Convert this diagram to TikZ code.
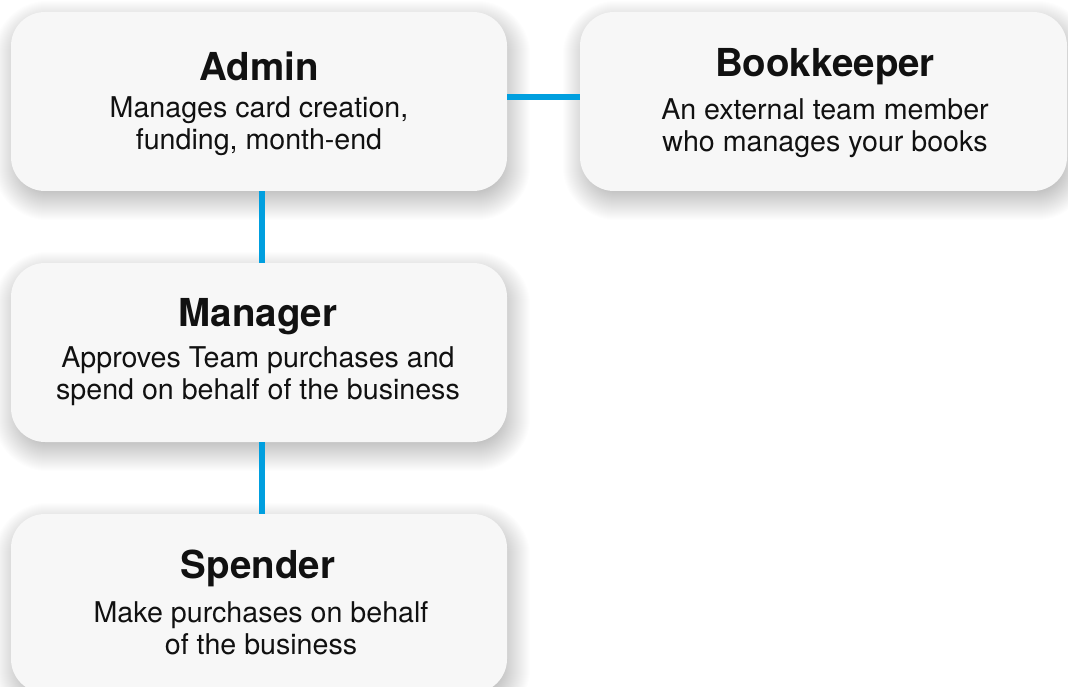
\documentclass[tikz,border=0pt]{standalone}
\usepackage{fontspec}
\setmainfont{TeX Gyre Heros}
\usetikzlibrary{backgrounds}
\definecolor{boxfill}{HTML}{F7F7F7}
\definecolor{linkblue}{HTML}{009FDF}
\definecolor{txt}{HTML}{111111}
\newcommand{\softshadow}[1]{%
  \foreach \i in {-10,...,20}{%
    \fill[black, opacity=0.0065, rounded corners=34pt+\i pt]
      ([xshift=-\i pt+3pt, yshift=\i pt-9pt]#1.north west) rectangle
      ([xshift=\i pt+3pt, yshift=-\i pt-9pt]#1.south east);
  }}
\begin{document}
\begin{tikzpicture}[x=1pt,y=-1pt,
  card/.style={fill=boxfill, draw=none, rounded corners=34pt, minimum width=496pt, minimum height=179pt, inner sep=0pt},
  title/.style={font=\fontsize{38.5}{42}\selectfont\bfseries, text=txt, inner sep=0pt},
  body/.style={font=\fontsize{28.6}{32}\selectfont, text=txt, align=center, inner sep=0pt},
  link/.style={draw=linkblue, line width=6pt}]
\useasboundingbox (0,0) rectangle (1068,687);
% cards
\node[card] (admin) at (259,101.5) {};
\node[card, minimum width=487pt] (book) at (823.5,101.5) {};
\node[card] (manager) at (259,352.5) {};
\node[card] (spender) at (259,603.5) {};
\begin{pgfonlayer}{background}
\fill[white] (0,0) rectangle (1068,687);
\softshadow{admin}
\softshadow{book}
\softshadow{manager}
\softshadow{spender}
\end{pgfonlayer}
% connectors
\draw[link] ([xshift=3pt]admin.south) -- ([xshift=3pt]manager.north);
\draw[link] ([xshift=3pt]manager.south) -- ([xshift=3pt]spender.north);
\draw[link] ([yshift=4.5pt]admin.east) -- ([yshift=4.5pt]book.west);
% texts
\node[title] (admint) at (259,66) {Admin};
\node[body] (adminb) at (259,126) {Manages card creation,\\funding, month-end};
\node[title] (bookt) at (825,67) {Bookkeeper};
\node[body] (bookb) at (825,128) {An external team member\\who manages your books};
\node[title] (managert) at (258,317) {Manager};
\node[body] (managerb) at (258,376) {Approves Team purchases and\\spend on behalf of the business};
\node[title] (spendert) at (258,568) {Spender};
\node[body] (spenderb) at (261,628) {Make purchases on behalf\\of the business};
\end{tikzpicture}
\end{document}
